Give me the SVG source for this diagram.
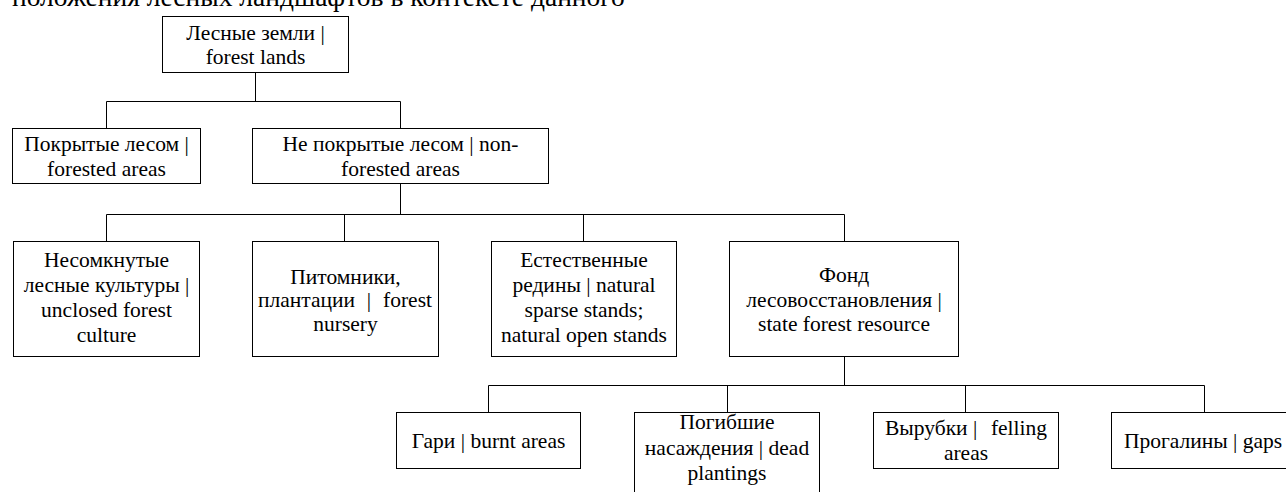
<svg xmlns="http://www.w3.org/2000/svg" width="1286" height="492" viewBox="0 0 1286 492">
  <style>
    .box { fill: #fff; stroke: #000; stroke-width: 1; }
    .wire { fill: none; stroke: #000; stroke-width: 1; }
    text { font-family: "Liberation Serif", "Times New Roman", serif; font-size: 21.5px; fill: #000; }
    .c { text-anchor: middle; }
    .body { font-size: 27.5px; }
  </style>
  <rect width="1286" height="492" fill="#fff"/>

  <!-- running text line above the figure, clipped by the page edge -->
  <text class="body" x="12" y="6">положения лесных ландшафтов в контексте данного</text>

  <g id="connectors">
    <path class="wire" d="M255.5 72 V101.5 M106.5 101.5 H400.5 M106.5 101.5 V128 M400.5 101.5 V128"/>
    <path class="wire" d="M400.5 184 V214.5 M106.5 214.5 H844.5 M106.5 214.5 V241 M344.5 214.5 V241 M583.5 214.5 V241 M844.5 214.5 V241"/>
    <path class="wire" d="M844.5 357 V385.5 M488.5 385.5 H1204.5 M488.5 385.5 V412 M727.5 385.5 V412 M965.5 385.5 V412 M1204.5 385.5 V412"/>
  </g>

  <g id="forest-lands">
    <rect class="box" x="162.5" y="16.5" width="186" height="56"/>
    <text class="c" x="255.5" y="39.5">Лесные земли |</text>
    <text class="c" x="255.5" y="64">forest lands</text>
  </g>

  <g id="forested">
    <rect class="box" x="12.5" y="128.5" width="188" height="55"/>
    <text class="c" x="106.5" y="151">Покрытые лесом |</text>
    <text class="c" x="106.5" y="175.5">forested areas</text>
  </g>

  <g id="non-forested">
    <rect class="box" x="252.5" y="128.5" width="296" height="55"/>
    <text class="c" x="400.5" y="151">Не покрытые лесом | non-</text>
    <text class="c" x="400.5" y="175.5">forested areas</text>
  </g>

  <g id="unclosed-culture">
    <rect class="box" x="13.5" y="241.5" width="186" height="115"/>
    <text class="c" x="106.5" y="267">Несомкнутые</text>
    <text class="c" x="106.5" y="292">лесные культуры |</text>
    <text class="c" x="106.5" y="317">unclosed forest</text>
    <text class="c" x="106.5" y="342">culture</text>
  </g>

  <g id="nursery">
    <rect class="box" x="252.5" y="241.5" width="186" height="115"/>
    <text class="c" x="345.5" y="284">Питомники,</text>
    <text x="258" y="306.5">плантации</text>
    <text class="c" x="369" y="306.5">|</text>
    <text x="432" y="306.5" text-anchor="end">forest</text>
    <text class="c" x="345.5" y="331">nursery</text>
  </g>

  <g id="sparse-stands">
    <rect class="box" x="491.5" y="241.5" width="185" height="115"/>
    <text class="c" x="584" y="267">Естественные</text>
    <text class="c" x="584" y="292">редины | natural</text>
    <text class="c" x="584" y="317">sparse stands;</text>
    <text class="c" x="584" y="342">natural open stands</text>
  </g>

  <g id="restoration-fund">
    <rect class="box" x="729.5" y="241.5" width="229" height="115"/>
    <text class="c" x="844" y="282">Фонд</text>
    <text class="c" x="844" y="306.5">лесовосстановления |</text>
    <text class="c" x="844" y="331">state forest resource</text>
  </g>

  <g id="burnt-areas">
    <rect class="box" x="396.5" y="412.5" width="184" height="56"/>
    <text class="c" x="488.5" y="448">Гари | burnt areas</text>
  </g>

  <g id="dead-plantings">
    <rect class="box" x="634.5" y="412.5" width="185" height="90"/>
    <text class="c" x="727" y="429">Погибшие</text>
    <text class="c" x="727" y="454.5">насаждения | dead</text>
    <text class="c" x="727" y="480">plantings</text>
  </g>

  <g id="felling-areas">
    <rect class="box" x="873.5" y="412.5" width="185" height="56"/>
    <text x="885" y="435">Вырубки |</text>
    <text x="1047" y="435" text-anchor="end">felling</text>
    <text class="c" x="966" y="460">areas</text>
  </g>

  <g id="gaps">
    <rect class="box" x="1111.5" y="412.5" width="200" height="56"/>
    <text class="c" x="1203" y="447.5">Прогалины | gaps</text>
  </g>
</svg>
